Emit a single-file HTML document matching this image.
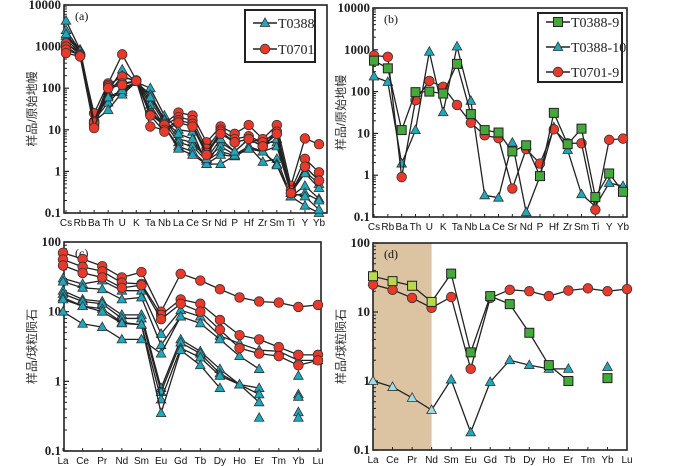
<!DOCTYPE html>
<html><head><meta charset="utf-8"><style>
html,body{margin:0;padding:0;background:#fff;}
svg{display:block;}
.num{font-family:"Liberation Serif",serif;font-size:13px;font-weight:bold;fill:#222;}
.cat{font-family:"Liberation Sans",sans-serif;font-size:10px;fill:#111;}
.yt{font-family:"Liberation Sans","Noto Sans CJK SC",sans-serif;font-size:12px;fill:#333;}
.lg{font-family:"Liberation Serif",serif;font-size:14px;fill:#222;}
.pl{font-family:"Liberation Serif",serif;font-size:12px;fill:#111;}
</style></head><body>
<svg id="chart" width="700" height="466" viewBox="0 0 700 466" xmlns="http://www.w3.org/2000/svg"></svg>
<script>
// ---------- data ----------
const catsSpider=["Cs","Rb","Ba","Th","U","K","Ta","Nb","La","Ce","Sr","Nd","P","Hf","Zr","Sm","Ti","Y","Yb"];
const catsREE=["La","Ce","Pr","Nd","Sm","Eu","Gd","Tb","Dy","Ho","Er","Tm","Yb","Lu"];
const aCircles=[
 [1200,650,25,130,650,155,25,14,26,22,5,12,8,13,6,13,0.45,6.2,4.5],
 [1000,600,16,120,190,150,23,13,20,17,3.5,10,6,7,5,9,0.35,2,0.95],
 [850,620,15,110,130,150,12,10,17,14,2.8,9,5,6,4,9,0.3,1.3,0.6],
 [700,580,11,100,120,150,22,9,15,12,2.5,8,5,6,4,8,0.3,1.3,0.6]];
const aTriangles=[
 [4200,850,20,85,280,140,100,22,10,9,1.5,5,3,6,5,5,0.3,1,0.5],
 [2500,800,18,70,200,140,70,18,6,5,2,4,2.5,4,3,4,0.3,0.9,0.4],
 [1800,750,17,45,100,140,50,15,5,4,1.8,3,2.4,4,1.7,2,0.25,0.45,0.22],
 [1500,700,16,30,80,140,40,12,4,3,1.5,2.5,2.3,3.5,3,1.5,0.25,0.3,0.2],
 [1200,700,15,65,70,140,30,12,3.5,2.5,1.5,1.5,2.4,3.5,3,1.4,0.25,0.15,0.1],
 [2000,780,18,60,90,140,60,17,8,6,2,6,3,6,4,6,0.3,0.25,0.12]];
const bT0388_9=[550,360,12,97,100,90,460,29,12,10.5,3.7,5.2,0.95,31,5.5,13,0.3,1.1,0.4];
const bT0388_10=[230,170,1.9,12,900,32,1200,60,0.33,0.29,6,0.13,0.95,14,4,0.35,0.18,0.65,0.55];
const bT0701_9=[730,680,0.9,62,180,130,48,18,9,7.7,0.48,4.2,1.9,12.5,5.8,5.8,0.15,7,7.5];
const cCircles=[
 [70,57,45,31,37,10,35,28,21,16,14,13.5,11.7,12.5],
 [56,44,38,26,25,9,15,13,7.6,4.6,4,3.1,2.4,2.4],
 [46,36,31,22,24,7.8,13,10,5.5,3,2.5,2.3,1.7,2.0]];
const cTriangles=[
 [30,25,28,20,20,4.8,10.5,8.5,4.5,3.5,2.8,2.7,2.0,2.0],
 [27,22,21,15,16,3.3,8.5,6.8,4,2.3,1.5,null,1.2,null],
 [20,15,14,9,9,0.8,4,2.7,1.5,0.9,0.8,null,0.65,null],
 [18,14,13,8,8,0.7,3.6,2.5,1.3,0.9,0.65,null,0.6,null],
 [16,12,11,7,6.5,0.55,3,2.2,1.2,0.9,0.5,null,0.36,null],
 [15,12,10,6.8,6.5,0.35,2.8,1.7,0.8,null,0.3,null,0.3,null],
 [10,6.7,6,4,4,2.5,8.5,null,null,null,null,null,null,null]];
const dSquares=[33,28,24,14,36,2.6,17,13,5,1.7,1.0,null,1.1,null];
const dCircles=[25,21,16,11.5,16.5,1.5,16,21,20,17,20.5,22,20,21.5];
const dTriangles=[1.0,0.82,0.57,0.38,1.05,0.18,0.97,2.0,1.7,1.5,1.5,null,1.6,null];
const spiderTicks=["10000","1000","100","10","1","0.1"];
const reeTicks=["100","10","1","0.1"];

// ---------- helpers ----------
const svg=document.getElementById('chart');
const NS="http://www.w3.org/2000/svg";
function mk(tag,at,parent){const e=document.createElementNS(NS,tag);for(const k in at)e.setAttribute(k,at[k]);(parent||svg).appendChild(e);return e;}
const RED="#e8392b",TEAL="#1fa8bd",GREEN="#45a83a";

function panel(o){
  const g=mk('g',{});
  
  
  const lmin=Math.log10(o.ymin),lmax=Math.log10(o.ymax);
  o.y=v=>o.bot-(Math.log10(v)-lmin)/(lmax-lmin)*(o.bot-o.top);
  o.x=i=>o.x0+i*(o.x1-o.x0)/(o.cats.length-1);
  if(o.shade){const r=mk('rect',{x:o.L,y:o.top,width:o.x(3)-o.L,height:o.bot-o.top,fill:"#dcc4a2"},g);
    }
  const fr=mk('rect',{x:o.L,y:o.top,width:o.R-o.L,height:o.bot-o.top,fill:"none",stroke:"#222","stroke-width":1.6},g);
  
  for(let e=Math.round(lmin);e<=Math.round(lmax);e++){
    const yy=o.y(Math.pow(10,e));
    mk('line',{x1:o.L,x2:o.L+5,y1:yy,y2:yy,stroke:"#222","stroke-width":1.2},g);
    const t=mk('text',{x:o.L-3,y:yy+4,"text-anchor":"end",class:"num"},g);
    t.textContent=o.ticks[Math.round(lmax)-e];
    
    if(e<Math.round(lmax))for(let m=2;m<10;m++){const ym=o.y(m*Math.pow(10,e));
      mk('line',{x1:o.L,x2:o.L+3,y1:ym,y2:ym,stroke:"#222","stroke-width":1},g);}
  }
  o.cats.forEach((c,i)=>{
    mk('line',{x1:o.x(i),x2:o.x(i),y1:o.bot,y2:o.bot-3,stroke:"#222","stroke-width":1},g);
    const t=mk('text',{x:o.x(i),y:o.bot+13,"text-anchor":"middle",class:"cat"},g);
    t.textContent=c;
  });
  const yt=mk('text',{x:0,y:0,transform:`translate(${o.L-28},${(o.top+o.bot)/2}) rotate(-90)`,"text-anchor":"middle",class:"yt"},g);
  yt.textContent=o.ytitle;
  const pl=mk('text',{x:o.L+11,y:o.top+15,class:"pl"},g);
  pl.textContent=o.label;
  o.g=g;return o;
}
function marker(g,type,x,y,fill){
  let e;
  if(type==='c')e=mk('circle',{cx:x,cy:y,r:4.8,fill:fill,stroke:"#333","stroke-width":0.8},g);
  else if(type==='t')e=mk('polygon',{points:`${x},${y-5} ${x-4.8},${y+3.5} ${x+4.8},${y+3.5}`,fill:fill,stroke:"#333","stroke-width":0.8},g);
  else e=mk('rect',{x:x-4.5,y:y-4.5,width:9,height:9,fill:fill,stroke:"#222","stroke-width":1},g);
  return e;
}
function series(o,vals,type,fill,name,fillFn){
  const g=mk('g',{},o.g);
  
  
  for(let i=0;i<vals.length-1;i++){
    if(vals[i]!=null&&vals[i+1]!=null)
      mk('line',{x1:o.x(i),y1:o.y(vals[i]),x2:o.x(i+1),y2:o.y(vals[i+1]),stroke:"#222","stroke-width":1.3},g);
  }
  vals.forEach((v,i)=>{if(v==null)return;
    const m=marker(g,type,o.x(i),o.y(v),fillFn?fillFn(i):fill);
    
    
  });
}
function legend(x,y,w,h,first,step,items){
  const g=mk('g',{});
  
  
  mk('rect',{x:x,y:y,width:w,height:h,fill:"#fff",stroke:"#222","stroke-width":2},g);
  items.forEach((it,k)=>{
    const yy=y+first+k*step;
    const e=mk('g',{},g);
    
    
    mk('line',{x1:x+8,x2:x+32,y1:yy,y2:yy,stroke:"#222","stroke-width":1.4},e);
    marker(e,it.t,x+20,yy,it.f);
    const t=mk('text',{x:x+33,y:yy+5,class:"lg"},e);t.textContent=it.n;
  });
}

// ---------- panels ----------
const A=panel({name:"panel-a",L:64,R:327,top:5,bot:213,x0:66,x1:319,ymin:0.1,ymax:10000,cats:catsSpider,ticks:spiderTicks,ytitle:"样品/原始地幔",label:"(a)"});
aTriangles.forEach((s,k)=>series(A,s,'t',TEAL,'t0388-series-'+(k+1)));
aCircles.forEach((s,k)=>series(A,s,'c',RED,'t0701-series-'+(k+1)));
legend(245,10,70,52,13,26,[{t:'t',f:TEAL,n:"T0388"},{t:'c',f:RED,n:"T0701"}]);

const B=panel({name:"panel-b",L:373,R:627,top:8,bot:217,x0:374,x1:623,ymin:0.1,ymax:10000,cats:catsSpider,ticks:spiderTicks,ytitle:"样品/原始地幔",label:"(b)"});
series(B,bT0388_10,'t',TEAL,'t0388-10-series');
series(B,bT0701_9,'c',RED,'t0701-9-series');
series(B,bT0388_9,'s',GREEN,'t0388-9-series');
legend(538,13,84,69,9,25,[{t:'s',f:GREEN,n:"T0388-9"},{t:'t',f:TEAL,n:"T0388-10"},{t:'c',f:RED,n:"T0701-9"}]);

const C=panel({name:"panel-c",L:64,R:321,top:242,bot:451,x0:63,x1:318,ymin:0.1,ymax:100,cats:catsREE,ticks:reeTicks,ytitle:"样品/球粒陨石",label:"(c)"});
cTriangles.forEach((s,k)=>series(C,s,'t',TEAL,'triangle-series-'+(k+1)));
cCircles.forEach((s,k)=>series(C,s,'c',RED,'circle-series-'+(k+1)));

const D=panel({name:"panel-d",L:373,R:627,top:243,bot:450,x0:373,x1:627,ymin:0.1,ymax:100,cats:catsREE,ticks:reeTicks,ytitle:"样品/球粒陨石",label:"(d)",shade:true});
series(D,dTriangles,'t',TEAL,'triangle-series',i=>i<=3?"#9fdde6":TEAL);
series(D,dCircles,'c',RED,'circle-series');
series(D,dSquares,'s',GREEN,'square-series',i=>i<=3?"#b9d84e":GREEN);
</script>
</body></html>
